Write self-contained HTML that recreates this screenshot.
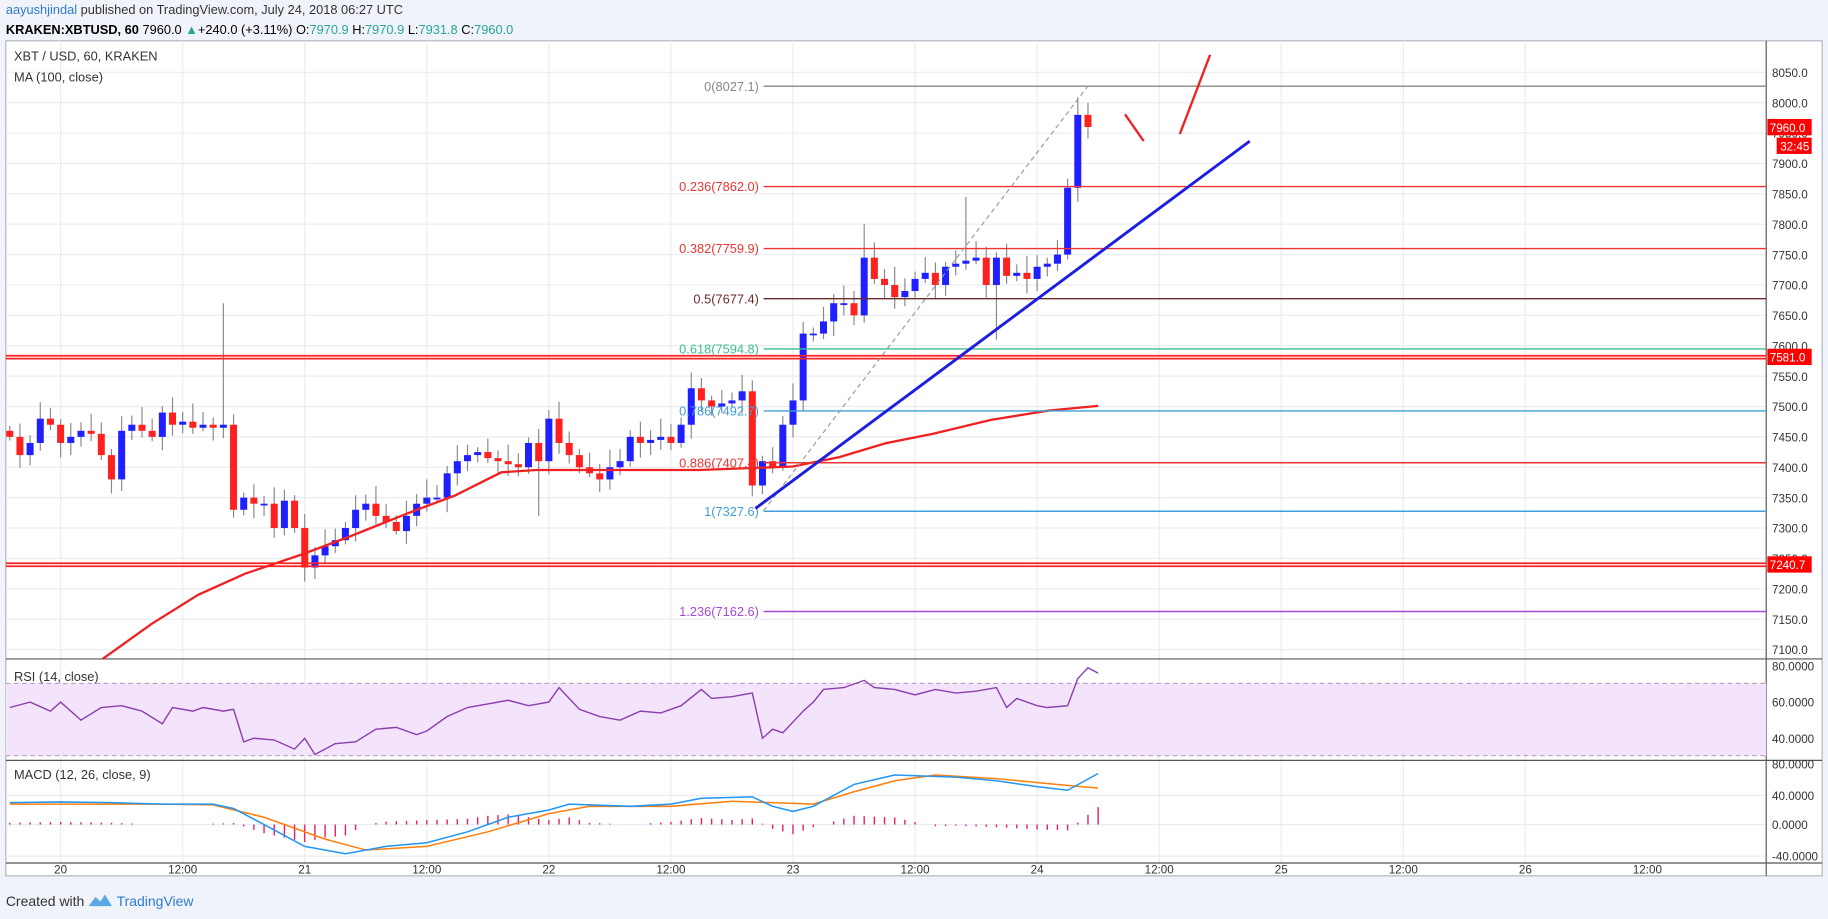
<!DOCTYPE html>
<html><head><meta charset="utf-8"><style>
html,body{margin:0;padding:0;background:#fff;}
svg{display:block;font-family:"Liberation Sans",sans-serif;}
</style></head><body>
<svg id="s" width="1828" height="919" viewBox="0 0 1568 788" preserveAspectRatio="none" xmlns="http://www.w3.org/2000/svg">
<rect x="0" y="0" width="1568" height="788" fill="#f0f3fa"/>
<rect x="5" y="35" width="1558" height="716" fill="#fff" stroke="#b2b5be" stroke-width="1"/>
<text x="5" y="12" font-size="11" fill="#333"><tspan fill="#2e7bcf">aayushjindal</tspan> published on TradingView.com, July 24, 2018 06:27 UTC</text>
<text x="5" y="29" font-size="11" fill="#000" font-weight="bold">KRAKEN:XBTUSD, 60 <tspan font-weight="normal">7960.0 <tspan fill="#26a69a">▲</tspan>+240.0 (+3.11%) O:<tspan fill="#26a69a">7970.9</tspan> H:<tspan fill="#26a69a">7970.9</tspan> L:<tspan fill="#26a69a">7931.8</tspan> C:<tspan fill="#26a69a">7960.0</tspan></tspan></text>
<g id="g"></g>
<text x="12" y="52" font-size="11" fill="#333">XBT / USD, 60, KRAKEN</text>
<text x="12" y="70" font-size="11" fill="#333">MA (100, close)</text>
<text x="12" y="584" font-size="11" fill="#333">RSI (14, close)</text>
<text x="12" y="668" font-size="11" fill="#333">MACD (12, 26, close, 9)</text>
<text x="5" y="777" font-size="12" fill="#333">Created with</text>
<path d="M76 777 l6-8 l4 4 l4-6 l6 10z" fill="#5aa9e6"/>
<text x="100" y="777" font-size="12" fill="#2e7bcf">TradingView</text>
</svg>
<script>
const g=document.getElementById('g');let h='';
const X=hh=>52+8.725*hh, Y=p=>62+(8050-p)*0.521;
const L=(x1,y1,x2,y2,c,w,extra)=>h+=`<line x1="${x1}" y1="${y1}" x2="${x2}" y2="${y2}" stroke="${c}" stroke-width="${w}" ${extra||''}/>`;
const T=(x,y,t,c,s,a)=>h+=`<text x="${x}" y="${y}" font-size="${s||10}" fill="${c}" ${a?'text-anchor="'+a+'"':''}>${t}</text>`;
// grid
for(let d=0;d<=12;d++){let x=X(d*12);if(x<1515)L(x,35,x,740,'#e9ecf2',1);}
for(let p=7100;p<=8050;p+=50)L(5,Y(p),1515,Y(p),'#e9ecf2',1);
[602,633,682,707,734].forEach(y=>L(5,y,1515,y,'#e9ecf2',1));
// pane separators
L(5,565,1563,565,'#555',1);L(5,652,1563,652,'#555',1);L(5,740,1563,740,'#555',1);L(1515,35,1515,751,'#555',1);
// RSI band
h+=`<rect x="5" y="586" width="1510" height="62" fill="#f3e3fb"/>`;
L(5,586,1515,586,'#b9a0c8',1,'stroke-dasharray="4,3"');L(5,648,1515,648,'#b9a0c8',1,'stroke-dasharray="4,3"');
// axis labels
for(let p=7100;p<=8050;p+=50)T(1520,Y(p)+4,p.toFixed(1),'#333',10);
[[571,'80.0000'],[602,'60.0000'],[633,'40.0000'],[655,'80.0000'],[682,'40.0000'],[707,'0.0000'],[734,'-40.0000']].forEach(a=>T(1520,a[0]+4,a[1],'#333',10));
[['20',0],['12:00',12],['21',24],['12:00',36],['22',48],['12:00',60],['23',72],['12:00',84],['24',96],['12:00',108],['25',120],['12:00',132],['26',144],['12:00',156]].forEach(a=>T(X(a[1]),749,a[0],'#333',10,'middle'));
// price keypoints
const K=[[-5,7450],[-4,7420],[-3,7440],[-2,7480],[-1,7470],[0,7440],[1,7450],[2,7460],[3,7455],[4,7420],[5,7380],[6,7460],[7,7470],[8,7460],[9,7450],[10,7490],[11,7470],[12,7475],[13,7465],[14,7470],[15,7465],[16,7470],[17,7330],[18,7350],[19,7340],[20,7340],[21,7300],[22,7345],[23,7300],[24,7235],[25,7255],[26,7270],[27,7280],[28,7300],[29,7330],[30,7340],[31,7320],[32,7310],[33,7295],[34,7320],[35,7340],[36,7350],[37,7350],[38,7390],[39,7410],[40,7420],[41,7425],[42,7415],[43,7410],[44,7405],[45,7400],[46,7440],[47,7410],[48,7480],[49,7440],[50,7420],[51,7400],[52,7390],[53,7380],[54,7400],[55,7410],[56,7450],[57,7440],[58,7445],[59,7450],[60,7440],[61,7470],[62,7530],[63,7510],[64,7500],[65,7505],[66,7510],[67,7525],[68,7370],[69,7410],[70,7400],[71,7470],[72,7510],[73,7620],[74,7620],[75,7640],[76,7670],[77,7670],[78,7650],[79,7745],[80,7710],[81,7700],[82,7680],[83,7690],[84,7710],[85,7720],[86,7700],[87,7730],[88,7735],[89,7740],[90,7745],[91,7700],[92,7745],[93,7715],[94,7720],[95,7710],[96,7730],[97,7735],[98,7750],[99,7860],[100,7980],[101,7960]];
let prev=7460;
K.forEach(([hh,c],i)=>{let o=i?K[i-1][1]:prev;let x=X(hh);let hi=Math.max(o,c)+8+((i*37)%23),lo=Math.min(o,c)-6-((i*53)%19);
if(hh==16)hi=7670;if(hh==47)lo=7320;if(hh==89)hi=7845;if(hh==92)lo=7610;if(hh==79)hi=7800;
L(x,Y(hi),x,Y(lo),'#888',1);let up=c>=o;let y1=Y(Math.max(o,c)),y2=Y(Math.min(o,c));
h+=`<rect x="${x-3}" y="${y1}" width="6" height="${Math.max(1.5,y2-y1)}" fill="${up?'#1f1fff':'#ff2020'}"/>`;});
// MA
h+=`<polyline fill="none" stroke="#e22" stroke-width="2" points="88,565 130,535 170,510 210,492 260,475 300,460 350,440 390,425 430,405 460,403 520,403 600,403 680,400 720,392 760,380 800,372 850,360 900,352 942,348"/>`;
// horizontal thick lines
[[306],[484]].forEach(a=>{L(5,a[0]-1,1515,a[0]-1,'#f22',1.5);L(5,a[0]+1.5,1515,a[0]+1.5,'#f22',1.5);});
// fibs
[[8027.1,'0(8027.1)','#888'],[7862,'0.236(7862.0)','#e33'],[7759.9,'0.382(7759.9)','#e33'],[7677.4,'0.5(7677.4)','#6b2b2b'],[7594.8,'0.618(7594.8)','#3cbf8c'],[7492.7,'0.786(7492.7)','#3f9fd8'],[7407.4,'0.886(7407.4)','#e33'],[7327.6,'1(7327.6)','#3f9fd8'],[7162.6,'1.236(7162.6)','#a54ad8']].forEach(a=>{let y=Y(a[0]);L(655,y,1515,y,a[2],1.2);T(651,y+4,a[1],a[2],11,'end');});
L(655,438,933,74,'#999',1,'stroke-dasharray="4,3"');
L(648,436,1072,121,'#1e1ee0',2.5);
L(965,98,981,121,'#e22',2);L(1012,115,1038,47,'#e22',2);
// price tags
[[109,'7960.0'],[125,'32:45'],[306,'7581.0'],[484,'7240.7']].forEach(a=>{h+=`<rect x="${a[1]=='32:45'?1524:1516}" y="${a[0]-7}" width="${a[1]=='32:45'?30:38}" height="14" fill="#f00"/>`;T(a[1]=='32:45'?1527:1518,a[0]+4,a[1],'#fff',10);});
// RSI
const R=[[-5,57],[-3,60],[-1,55],[0,60],[2,50],[4,57],[6,58],[8,55],[10,48],[11,57],[13,55],[14,57],[16,55],[17,56],[18,38],[19,40],[21,39],[23,34],[24,40],[25,31],[27,37],[29,38],[31,45],[33,46],[35,42],[36,44],[38,52],[40,57],[42,59],[44,61],[46,58],[48,60],[49,68],[51,56],[53,52],[55,50],[57,55],[59,54],[61,58],[63,67],[64,62],[66,63],[67,64],[68,65],[69,40],[70,45],[71,43],[73,55],[74,60],[75,67],[77,68],[79,72],[80,68],[82,67],[84,64],[86,67],[88,65],[90,66],[92,68],[93,57],[94,62],[96,58],[97,57],[99,58],[100,73],[101,79],[102,76]];
h+=`<polyline fill="none" stroke="#8a3fae" stroke-width="1.2" points="${R.map(a=>X(a[0])+','+(571+(80-a[1])*1.55)).join(' ')}"/>`;
// MACD
const M=[[-5,30],[0,31],[5,30],[10,28],[15,28],[17,22],[20,0],[24,-30],[28,-40],[32,-30],[36,-25],[40,-10],[44,10],[48,20],[50,28],[56,25],[60,28],[63,36],[68,38],[70,25],[72,18],[74,25],[78,55],[82,68],[88,65],[92,60],[96,52],[99,47],[102,70]];
const S=[[-5,28],[10,28],[15,27],[20,10],[26,-20],[30,-35],[36,-30],[42,-10],[48,15],[52,25],[60,25],[66,32],[70,30],[74,28],[78,45],[82,60],[86,68],[92,63],[98,55],[102,50]];
const interp=(A,t)=>{for(let i=1;i<A.length;i++)if(t<=A[i][0]){let [a,b]=[A[i-1],A[i]];return a[1]+(b[1]-a[1])*(t-a[0])/(b[0]-a[0]);}return A[A.length-1][1];};
const MY=v=>707-v*0.625;
for(let t=-5;t<=102;t++){let d=(interp(M,t)-interp(S,t))*1.2;if(Math.abs(d)>1)L(X(t),707,X(t),MY(d),'#e91e63',1.2);}
h+=`<polyline fill="none" stroke="#ff7f0e" stroke-width="1.3" points="${S.map(a=>X(a[0])+','+MY(a[1])).join(' ')}"/>`;
h+=`<polyline fill="none" stroke="#2196f3" stroke-width="1.3" points="${M.map(a=>X(a[0])+','+MY(a[1])).join(' ')}"/>`;
g.innerHTML=h;
</script>
</body></html>
